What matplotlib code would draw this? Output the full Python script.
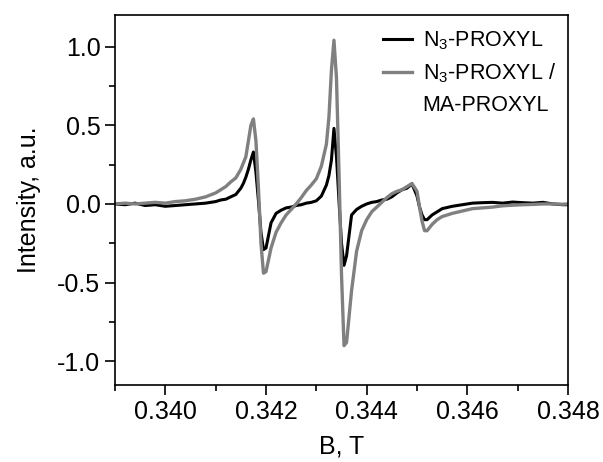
import numpy as np
import matplotlib.pyplot as plt
from matplotlib.lines import Line2D
from matplotlib.ticker import MultipleLocator

plt.rcParams['font.family'] = ['Liberation Sans', 'DejaVu Sans']
plt.rcParams['mathtext.fontset'] = 'custom'
plt.rcParams['mathtext.rm'] = 'Liberation Sans'

# magnetic field, T
field = [0.3390, 0.3392, 0.3394, 0.3396, 0.3398, 0.3400, 0.3402, 0.3404, 0.3406, 0.3408,
         0.3410, 0.3411, 0.3412, 0.3413, 0.3414, 0.3415, 0.34155, 0.3416, 0.34165, 0.3417,
         0.34175, 0.3418, 0.34185, 0.3419, 0.34195, 0.3420, 0.3421, 0.3422, 0.3423, 0.3424,
         0.3425, 0.3426, 0.3427, 0.3428, 0.3429, 0.3430, 0.3431, 0.3432, 0.34325, 0.3433,
         0.34335, 0.3434, 0.34345, 0.3435, 0.34355, 0.3436, 0.3437, 0.3438, 0.3439, 0.3440,
         0.3441, 0.3442, 0.3443, 0.3444, 0.3445, 0.3446, 0.3447, 0.3448, 0.3449, 0.3450,
         0.34505, 0.3451, 0.34515, 0.3452, 0.3453, 0.3454, 0.3455, 0.3457, 0.3459, 0.3461,
         0.3463, 0.3465, 0.3467, 0.3469, 0.3471, 0.3473, 0.3475, 0.3477, 0.3479, 0.3480]

n3_proxyl = [0.00, -0.005, 0.005, -0.01, -0.005, -0.015, -0.01, -0.005, 0.00, 0.005,
             0.015, 0.025, 0.03, 0.045, 0.06, 0.10, 0.13, 0.17, 0.22, 0.28,
             0.33, 0.20, 0.02, -0.18, -0.29, -0.28, -0.12, -0.06, -0.04, -0.025,
             -0.02, -0.01, -0.005, 0.005, 0.01, 0.02, 0.05, 0.12, 0.18, 0.28,
             0.48, 0.30, 0.02, -0.25, -0.39, -0.33, -0.07, -0.035, -0.015, 0.00,
             0.01, 0.015, 0.025, 0.03, 0.045, 0.07, 0.09, 0.10, 0.127, 0.05,
             -0.02, -0.07, -0.10, -0.10, -0.07, -0.05, -0.03, -0.015, -0.005, 0.005,
             0.008, 0.01, 0.005, 0.012, 0.008, 0.005, 0.01, 0.00, -0.005, -0.005]

n3_ma_proxyl = [0.00, 0.005, 0.00, 0.005, 0.01, 0.005, 0.015, 0.02, 0.03, 0.045,
                0.07, 0.09, 0.11, 0.14, 0.165, 0.22, 0.26, 0.30, 0.40, 0.50,
                0.54, 0.40, 0.10, -0.25, -0.44, -0.43, -0.28, -0.18, -0.12, -0.07,
                -0.035, 0.00, 0.04, 0.085, 0.12, 0.16, 0.24, 0.38, 0.55, 0.85,
                1.04, 0.80, 0.20, -0.45, -0.90, -0.88, -0.55, -0.30, -0.17, -0.10,
                -0.05, -0.02, 0.01, 0.04, 0.065, 0.08, 0.09, 0.11, 0.13, 0.08,
                -0.02, -0.11, -0.17, -0.17, -0.13, -0.10, -0.08, -0.06, -0.045, -0.03,
                -0.025, -0.02, -0.012, -0.008, -0.005, -0.003, 0.00, 0.00, -0.002, 0.00]

fig = plt.figure(figsize=(6.03, 4.62), dpi=100)
ax = fig.add_axes([0.1907, 0.1667, 0.7513, 0.8008])

l1, = ax.plot(field, n3_proxyl, color='black', lw=2.2)
l2, = ax.plot(field, n3_ma_proxyl, color='#808080', lw=2.4)

ax.set_xlim(0.339, 0.348)
ax.set_ylim(-1.15, 1.2)
ax.xaxis.set_major_locator(MultipleLocator(0.002))
ax.xaxis.set_minor_locator(MultipleLocator(0.001))
ax.yaxis.set_major_locator(MultipleLocator(0.5))
ax.yaxis.set_minor_locator(MultipleLocator(0.25))
ax.xaxis.set_major_formatter(plt.FormatStrFormatter('%.3f'))
ax.yaxis.set_major_formatter(plt.FormatStrFormatter('%.1f'))
ax.tick_params(which='major', direction='out', length=7, width=1.2, labelsize=18)
ax.tick_params(which='minor', direction='out', length=4, width=1.2)
for s in ax.spines.values():
    s.set_linewidth(1.2)

ax.set_xlabel('B, T', fontsize=18, labelpad=8)
ax.set_ylabel('Intensity, a.u.', fontsize=18, labelpad=12)

# second label wraps onto a third row with no line
blank = Line2D([], [], color='none')
ax.legend([l1, l2, blank], ['N$_3$-PROXYL', 'N$_3$-PROXYL /', 'MA-PROXYL'],
          loc='upper left', bbox_to_anchor=(0.572, 0.985), borderaxespad=0,
          frameon=False, fontsize=15.5, handlelength=1.35, handletextpad=0.5,
          labelspacing=0.45)

fig.savefig('out.png', dpi=100)
